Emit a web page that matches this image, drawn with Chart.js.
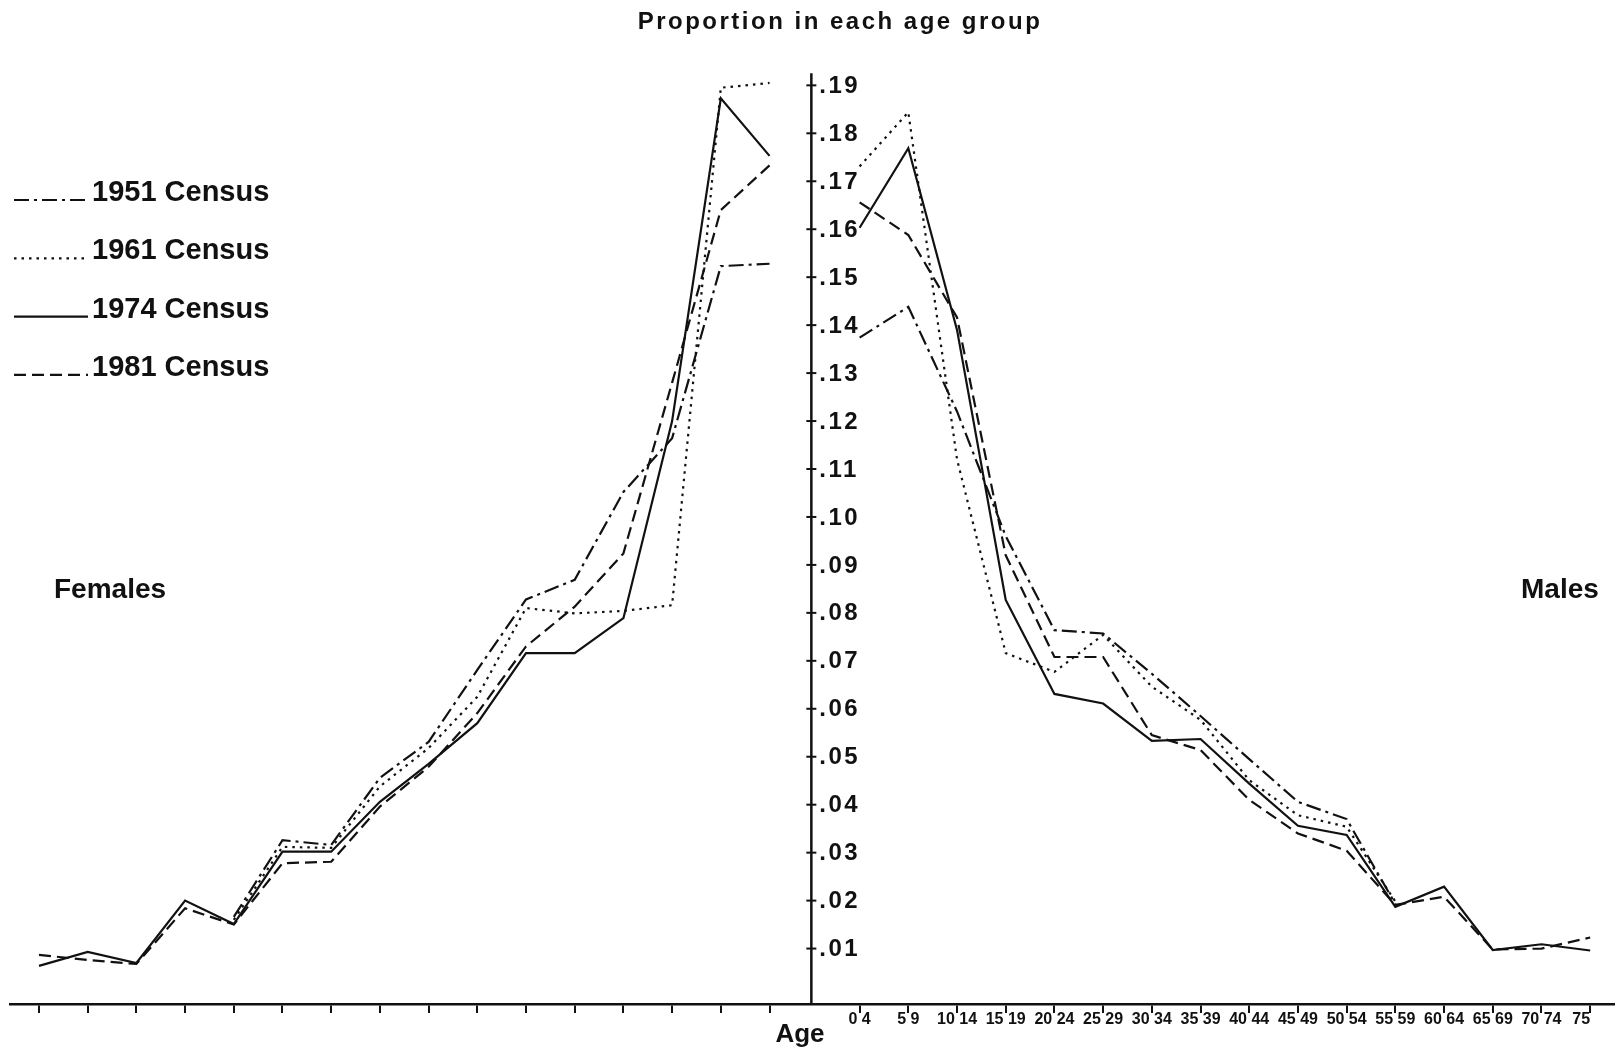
<!DOCTYPE html>
<html>
<head>
<meta charset="utf-8">
<title>Proportion in each age group</title>
<script src="https://cdn.jsdelivr.net/npm/chart.js@4.4.1/dist/chart.umd.min.js"></script>
<style>
  html, body { margin: 0; padding: 0; background: #fff; }
  #wrap { width: 1615px; height: 1052px; position: relative; }
</style>
</head>
<body>
<div id="wrap"><canvas id="pyramid"></canvas></div>
<script>
// age groups, youngest first
const ageGroups = ['0-4', '5-9', '10-14', '15-19', '20-24', '25-29', '30-34', '35-39',
  '40-44', '45-49', '50-54', '55-59', '60-64', '65-69', '70-74', '75+'];
// labels under the male half (the tick mark sits in the gap)
const maleTickLabels = ['0 4', '5 9', '10 14', '15 19', '20 24', '25 29', '30 34', '35 39',
  '40 44', '45 49', '50 54', '55 59', '60 64', '65 69', '70 74', '75\u2007\u2007'];
const yTickLabels = ['.01', '.02', '.03', '.04', '.05', '.06', '.07', '.08', '.09', '.10',
  '.11', '.12', '.13', '.14', '.15', '.16', '.17', '.18', '.19'];

// proportions, youngest group first (1951 and 1961 stop at 55-59)
const female1951 = [.1528, .1523, .1164, .1052, .0869, .0828, .0681, .0531, .0456, .0316, .0326, .0166];
const male1951   = [.1374, .1438, .1220, .0960, .0764, .0757, .0673, .0585, .0495, .0406, .0370, .0193];
const female1961 = [.1905, .1895, .0816, .0804, .0799, .0810, .0625, .0518, .0438, .0310, .0312, .0160];
const male1961   = [.1731, .1844, .1120, .0716, .0677, .0754, .0646, .0577, .0451, .0378, .0354, .0198];
const female1974 = [.1753, .1873, .1200, .0789, .0716, .0716, .0570, .0485, .0406, .0302, .0302, .0151, .0200, .0070, .0093, .0064];
const male1974   = [.1603, .1769, .1390, .0827, .0631, .0611, .0533, .0537, .0444, .0356, .0337, .0187, .0229, .0097, .0109, .0096];
const female1981 = [.1733, .1640, .1280, .0924, .0813, .0730, .0591, .0479, .0396, .0281, .0278, .0150, .0184, .0068, .0076, .0087];
const male1981   = [.1656, .1588, .1416, .0920, .0708, .0708, .0545, .0514, .0410, .0340, .0304, .0191, .0208, .0098, .0100, .0123];

const ink = '#111';
const fontFam = "'Liberation Sans', Arial, sans-serif";
const AXIS_AT = 15.9;      // where the proportion axis stands
const MALE_START = 16.85;  // position of male 0-4

// females run right-to-left from the axis, males left-to-right
function toPoints(f, m) {
  const left = f.map((v, i) => ({ x: 15 - i, y: v })).reverse();
  const right = m.map((v, i) => ({ x: MALE_START + i, y: v }));
  return left.concat([{ x: AXIS_AT, y: null }], right);
}

const xTickValues = ageGroups.map((a, i) => 15 - i).reverse()
  .concat(ageGroups.map((a, i) => MALE_START + i));

function series(label, f, m, dash) {
  return {
    label: label,
    data: toPoints(f, m),
    borderColor: ink,
    borderWidth: 2.2,
    borderDash: dash,
    pointRadius: 0,
    tension: 0,
    spanGaps: false,
    fill: false
  };
}

// legend, y axis and free text
const annotate = {
  id: 'annotate',
  afterDraw(chart) {
    const ctx = chart.ctx;
    const xs = chart.scales.x, ys = chart.scales.y;
    ctx.save();
    ctx.fillStyle = ink;
    ctx.strokeStyle = ink;

    // vertical proportion axis
    const ax = xs.getPixelForValue(AXIS_AT) - 2;
    ctx.lineWidth = 2.5;
    ctx.beginPath();
    ctx.moveTo(ax, ys.getPixelForValue(0.1925));
    ctx.lineTo(ax, chart.chartArea.bottom);
    ctx.stroke();
    ctx.font = 'bold 24px ' + fontFam;
    ctx.letterSpacing = '2.5px';
    ctx.textAlign = 'left';
    ctx.textBaseline = 'middle';
    ctx.lineWidth = 2;
    yTickLabels.forEach(t => {
      const py = ys.getPixelForValue(parseFloat('0' + t));
      ctx.beginPath();
      ctx.moveTo(ax - 5, py);
      ctx.lineTo(ax + 5, py);
      ctx.stroke();
      ctx.fillText(t, ax + 8, py + 1);
    });

    // title
    ctx.textAlign = 'center';
    ctx.textBaseline = 'alphabetic';
    ctx.letterSpacing = '2.5px';
    ctx.font = 'bold 24px ' + fontFam;
    ctx.fillText('Proportion in each age group', 840, 29);

    ctx.letterSpacing = '0px';
    ctx.font = 'bold 26px ' + fontFam;
    ctx.fillText('Age', 800, 1042);

    ctx.textAlign = 'left';
    ctx.font = 'bold 28px ' + fontFam;
    ctx.fillText('Females', 54, 598);
    ctx.fillText('Males', 1521, 598);

    // legend
    ctx.font = 'bold 29px ' + fontFam;
    chart.data.datasets.forEach((ds, i) => {
      const base = 201 + i * 58.3;
      ctx.lineWidth = 2.2;
      ctx.setLineDash(ds.borderDash || []);
      ctx.beginPath();
      ctx.moveTo(14, base - 1);
      ctx.lineTo(88, base - 1);
      ctx.stroke();
      ctx.setLineDash([]);
      ctx.fillText(ds.label, 92, base);
    });
    ctx.restore();
  }
};

const pyramidData = {
  datasets: [
    series('1951 Census', female1951, male1951, [15, 5, 3, 5]),
    series('1961 Census', female1961, male1961, [2.5, 5]),
    series('1974 Census', female1974, male1974, []),
    series('1981 Census', female1981, male1981, [12, 6])
  ]
};

const pyramidConfig = {
  type: 'line',
  data: pyramidData,
  plugins: [annotate],
  options: {
    responsive: true,
    maintainAspectRatio: false,
    animation: false,
    layout: { padding: { top: 70, left: 10, right: 0, bottom: 0 } },
    plugins: {
      legend: { display: false },
      title: { display: false },
      tooltip: { enabled: false }
    },
    scales: {
      x: {
        type: 'linear',
        min: -0.595,
        max: 32.36,
        afterBuildTicks: s => { s.ticks = xTickValues.map(v => ({ value: v })); },
        afterFit: s => { s.height = 48; },
        grid: { drawOnChartArea: false, drawTicks: true, tickLength: 9, color: ink, lineWidth: 2 },
        border: { display: true, color: ink, width: 2.5 },
        ticks: {
          autoSkip: false,
          maxRotation: 0,
          minRotation: 0,
          padding: -3,
          color: ink,
          font: { family: fontFam, size: 16, weight: 'bold' },
          callback: (v, i) => (i >= 16 ? maleTickLabels[i - 16] : '')
        }
      },
      y: {
        type: 'linear',
        display: false,
        min: -0.00156,
        max: 0.1932
      }
    }
  }
};

const pyramid = new Chart(document.getElementById('pyramid'), pyramidConfig);
</script>
</body>
</html>
